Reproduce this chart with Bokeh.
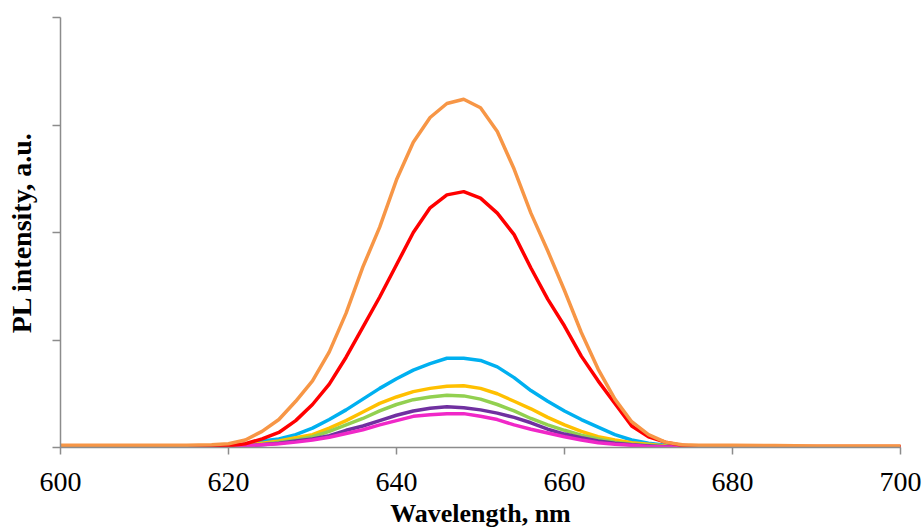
from bokeh.plotting import figure
from bokeh.embed import file_html
from bokeh.resources import INLINE
from bokeh.models import Range1d, FixedTicker

wavelength = [600, 605, 610, 615, 618,
              620, 622, 624, 626, 628, 630, 632, 634, 636, 638, 640, 642, 644, 646, 648,
              650, 652, 654, 656, 658, 660, 662, 664, 666, 668, 670, 672, 674, 676,
              680, 685, 690, 695, 700]

orange = [0.02, 0.02, 0.02, 0.02, 0.025,
          0.035, 0.07, 0.15, 0.26, 0.43, 0.62, 0.89, 1.25, 1.68, 2.05, 2.49, 2.84, 3.07, 3.20, 3.24,
          3.16, 2.94, 2.59, 2.18, 1.83, 1.46, 1.07, 0.73, 0.45, 0.24, 0.12, 0.05, 0.025, 0.02,
          0.02, 0.018, 0.015, 0.015, 0.015]
red = [0.005, 0.005, 0.005, 0.005, 0.008,
       0.015, 0.035, 0.08, 0.14, 0.25, 0.40, 0.59, 0.84, 1.12, 1.40, 1.70, 2.00, 2.23, 2.35, 2.38,
       2.32, 2.18, 1.98, 1.67, 1.38, 1.13, 0.85, 0.62, 0.41, 0.20, 0.10, 0.05, 0.02, 0.01,
       0.01, 0.01, 0.01, 0.01, 0.01]
blue = [0.005, 0.005, 0.005, 0.005, 0.006,
        0.01, 0.03, 0.06, 0.08, 0.12, 0.18, 0.26, 0.35, 0.45, 0.55, 0.64, 0.72, 0.78, 0.83, 0.83,
        0.81, 0.75, 0.65, 0.53, 0.43, 0.34, 0.26, 0.19, 0.12, 0.07, 0.04, 0.02, 0.008, 0.005,
        0.005, 0.005, 0.005, 0.005, 0.005]
yellow = [0.005, 0.005, 0.005, 0.005, 0.006,
          0.01, 0.02, 0.04, 0.06, 0.09, 0.12, 0.18, 0.25, 0.33, 0.41, 0.47, 0.52, 0.55, 0.57, 0.575,
          0.55, 0.50, 0.43, 0.36, 0.28, 0.21, 0.15, 0.10, 0.07, 0.045, 0.03, 0.015, 0.008, 0.005,
          0.005, 0.005, 0.005, 0.005, 0.005]
green = [0.005, 0.005, 0.005, 0.005, 0.006,
         0.01, 0.015, 0.03, 0.05, 0.07, 0.10, 0.15, 0.21, 0.27, 0.34, 0.40, 0.445, 0.47, 0.485, 0.48,
         0.45, 0.40, 0.34, 0.27, 0.21, 0.16, 0.115, 0.08, 0.05, 0.03, 0.02, 0.01, 0.006, 0.005,
         0.005, 0.005, 0.005, 0.005, 0.005]
purple = [0.003, 0.003, 0.003, 0.003, 0.005,
          0.008, 0.015, 0.025, 0.04, 0.06, 0.08, 0.11, 0.16, 0.20, 0.25, 0.30, 0.34, 0.365, 0.38, 0.37,
          0.35, 0.32, 0.28, 0.23, 0.17, 0.125, 0.09, 0.06, 0.04, 0.025, 0.015, 0.008, 0.004, 0.003,
          0.003, 0.003, 0.003, 0.003, 0.003]
magenta = [0.003, 0.003, 0.003, 0.003, 0.005,
           0.008, 0.015, 0.025, 0.035, 0.05, 0.07, 0.095, 0.13, 0.165, 0.21, 0.25, 0.29, 0.305, 0.315, 0.315,
           0.29, 0.26, 0.21, 0.17, 0.135, 0.10, 0.07, 0.045, 0.03, 0.02, 0.01, 0.005, 0.004, 0.003,
           0.003, 0.003, 0.003, 0.003, 0.003]

x_ticks = [600, 620, 640, 660, 680, 700]
y_ticks = [0, 1, 2, 3, 4]

series = [
    (blue, "#00B0F0"),
    (yellow, "#FFC000"),
    (green, "#92D050"),
    (purple, "#7030A0"),
    (magenta, "#F028C8"),
    (red, "#FF0000"),
    (orange, "#F79646"),
]

p = figure(width=922, height=531, output_backend="svg", toolbar_location=None,
           x_range=Range1d(600, 700), y_range=Range1d(0, 4),
           min_border_left=60, min_border_right=22, min_border_top=17, min_border_bottom=84)

for ys, col in series:
    p.line(wavelength, ys, line_color=col, line_width=3.5, line_join="round", line_cap="round")

p.outline_line_color = None
p.xgrid.grid_line_color = None
p.ygrid.grid_line_color = None

axis_gray = "#8C8C8C"
p.xaxis.ticker = FixedTicker(ticks=x_ticks)
p.xaxis.axis_line_color = axis_gray
p.xaxis.axis_line_width = 1.5
p.xaxis.major_tick_line_color = axis_gray
p.xaxis.major_tick_line_width = 1.5
p.xaxis.minor_tick_line_color = None
p.xaxis.major_tick_in = 0
p.xaxis.major_tick_out = 7
p.xaxis.major_label_text_font = "Liberation Serif"
p.xaxis.major_label_text_font_size = "28px"
p.xaxis.major_label_text_color = "black"
p.xaxis.major_label_standoff = 18
p.xaxis.axis_label = "Wavelength, nm"
p.xaxis.axis_label_text_font = "Liberation Serif"
p.xaxis.axis_label_text_font_style = "bold"
p.xaxis.axis_label_text_font_size = "26px"
p.xaxis.axis_label_text_color = "black"
p.xaxis.axis_label_standoff = 5

p.yaxis.ticker = FixedTicker(ticks=y_ticks)
p.yaxis.major_label_overrides = {t: "" for t in y_ticks}
p.yaxis.major_label_text_font_size = "0px"
p.yaxis.major_label_standoff = 0
p.yaxis.axis_line_color = axis_gray
p.yaxis.axis_line_width = 1.5
p.yaxis.major_tick_line_color = axis_gray
p.yaxis.major_tick_line_width = 1.5
p.yaxis.minor_tick_line_color = None
p.yaxis.major_tick_in = 0
p.yaxis.major_tick_out = 8
p.yaxis.axis_label = "PL intensity, a.u."
p.yaxis.axis_label_text_font = "Liberation Serif"
p.yaxis.axis_label_text_font_style = "bold"
p.yaxis.axis_label_text_font_size = "28px"
p.yaxis.axis_label_text_color = "black"
p.yaxis.axis_label_standoff = 16

open("out.html", "w").write(file_html(p, INLINE))
